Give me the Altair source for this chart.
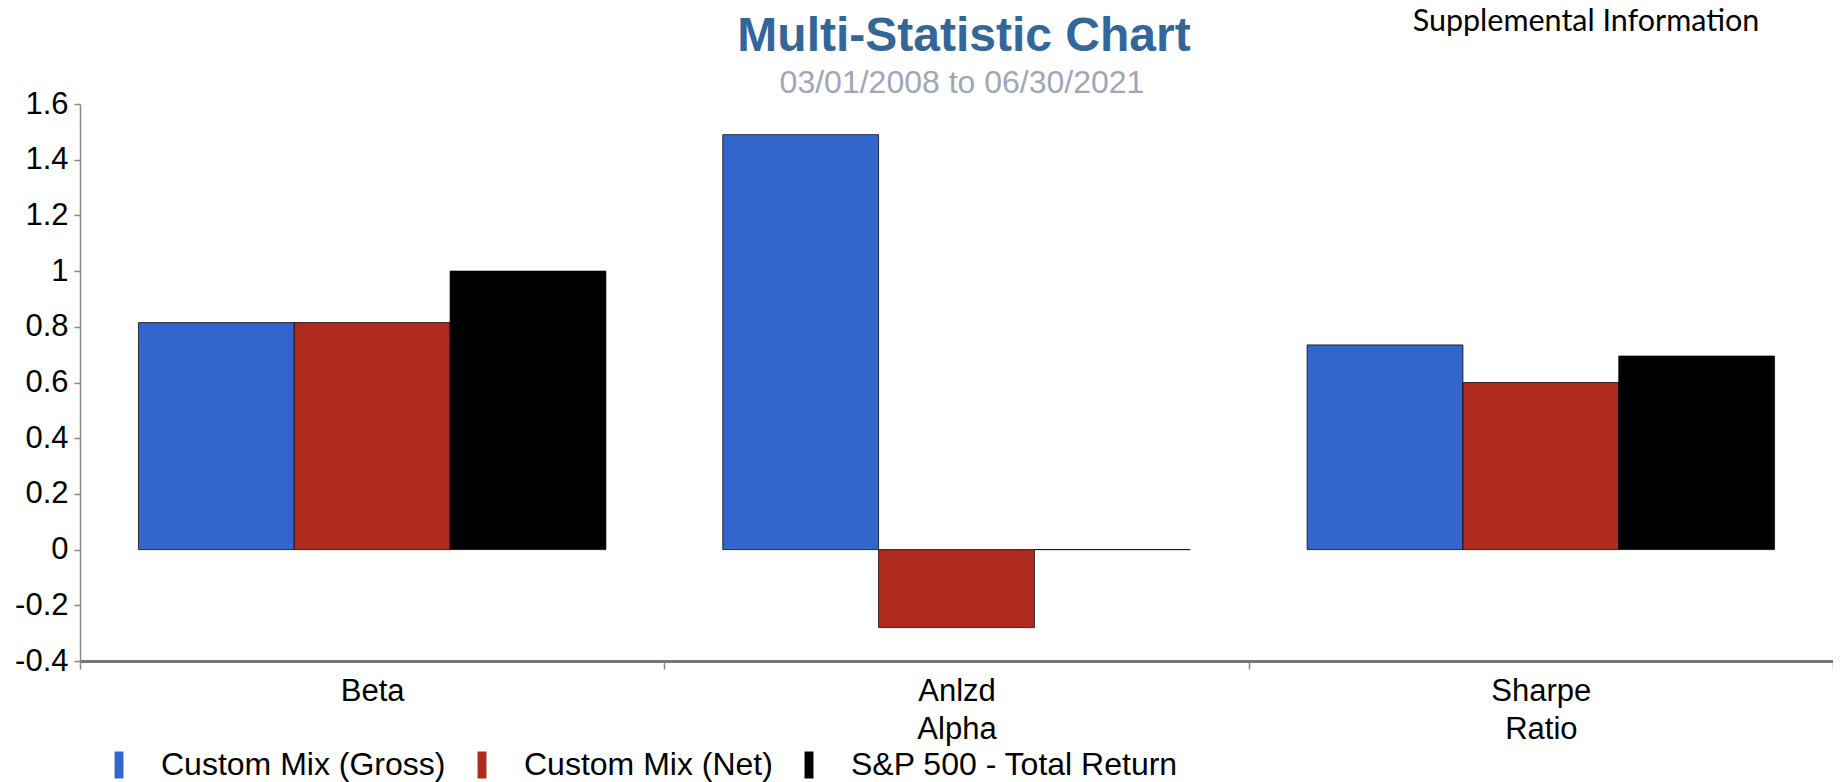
import altair as alt
import pandas as pd

categories = ["Beta", "Anlzd Alpha", "Sharpe Ratio"]
series = ["Custom Mix (Gross)", "Custom Mix (Net)", "S&P 500 - Total Return"]
gross = [0.815, 1.49, 0.735]
net = [0.815, -0.28, 0.60]
sp500 = [1.0, 0.0, 0.695]
colors = ["#3366CC", "#AF2B1E", "#000000"]
y_ticks = [-0.4, -0.2, 0, 0.2, 0.4, 0.6, 0.8, 1, 1.2, 1.4, 1.6]

title_text = "Multi-Statistic Chart"
subtitle_text = "03/01/2008 to 06/30/2021"
note_text = "Supplemental Information"

rows = []
for s, vals in zip(series, [gross, net, sp500]):
    for c, v in zip(categories, vals):
        rows.append({"category": c, "series": s, "value": v})
df = pd.DataFrame(rows)

FONT = "Liberation Sans"

bars = alt.Chart(df).mark_bar(stroke="#000000", strokeWidth=1, strokeOpacity=0.75).encode(
    x=alt.X(
        "category:N", sort=categories, title=None,
        scale=alt.Scale(paddingInner=0, paddingOuter=0),
        axis=alt.Axis(
            labelAngle=0, labelExpr="split(datum.label, ' ')", tickBand="extent",
            labelFont=FONT, labelFontSize=31, labelLineHeight=38, labelColor="#000000",
            labelPadding=7, tickSize=8, tickColor="#888888", tickWidth=1.5,
            domainColor="#777777", domainWidth=3, grid=False,
        ),
    ),
    xOffset=alt.XOffset("series:N", sort=series,
                        scale=alt.Scale(paddingInner=0, paddingOuter=0.375)),
    y=alt.Y(
        "value:Q", title=None,
        scale=alt.Scale(domain=[-0.4, 1.6], nice=False),
        axis=alt.Axis(
            values=y_ticks, labelExpr="'' + datum.value",
            labelFont=FONT, labelFontSize=31, labelColor="#000000",
            labelPadding=6, tickSize=6, tickColor="#888888", tickWidth=1.5,
            domainColor="#888888", domainWidth=1.5, grid=False,
        ),
    ),
    color=alt.Color(
        "series:N", sort=series,
        scale=alt.Scale(domain=series, range=colors),
        legend=alt.Legend(
            title=None, orient="none", legendX=23, legendY=645,
            direction="horizontal", symbolType="M-0.33,-1H0.33V1H-0.33Z",
            symbolSize=729, symbolStrokeWidth=0, symbolOpacity=1,
            labelFont=FONT, labelFontSize=32, labelColor="#000000",
            labelOffset=26, columnPadding=20, padding=0, labelLimit=1000,
        ),
    ),
)

title = alt.Chart(pd.DataFrame({"t": [title_text]})).mark_text(
    font=FONT, fontSize=48, fontWeight="bold", color="#336699",
    align="center", baseline="alphabetic",
).encode(text="t:N", x=alt.value(884), y=alt.value(-53))

subtitle = alt.Chart(pd.DataFrame({"t": [subtitle_text]})).mark_text(
    font=FONT, fontSize=32, color="#A0A5B8",
    align="center", baseline="alphabetic",
).encode(text="t:N", x=alt.value(882), y=alt.value(-11))

note = alt.Chart(pd.DataFrame({"t": [note_text]})).mark_text(
    font="Lato", fontSize=30.5, color="#000000",
    align="center", baseline="alphabetic",
).encode(text="t:N", x=alt.value(1506), y=alt.value(-73))

chart = alt.layer(bars, title, subtitle, note).properties(
    width=1753, height=557,
    autosize=alt.AutoSizeParams(type="none"),
    padding={"left": 72, "top": 96, "right": 0, "bottom": 123},
    background="#ffffff",
).configure_view(stroke=None)

chart.save("out.html", embed_options={"renderer": "svg", "actions": False})
